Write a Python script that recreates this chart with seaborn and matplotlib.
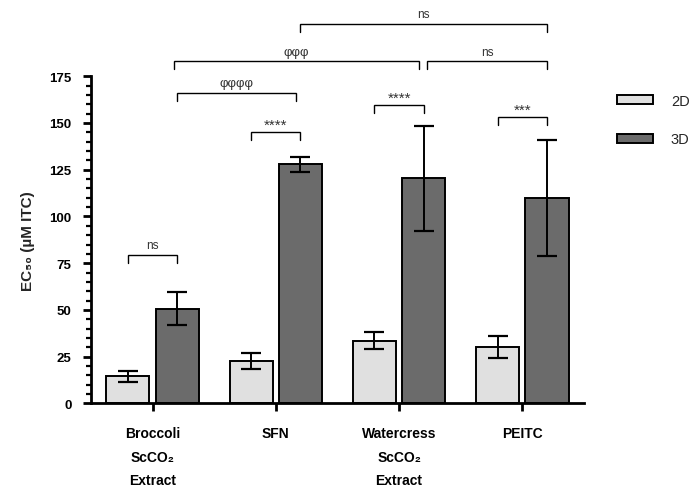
import matplotlib
matplotlib.use("Agg")
import matplotlib.pyplot as plt
import seaborn as sns
import pandas as pd
from matplotlib.ticker import MultipleLocator
from matplotlib.patches import Patch

# ---- data ----
groups = ["Broccoli\nScCO\u2082\nExtract", "SFN", "Watercress\nScCO\u2082\nExtract", "PEITC"]
conditions = ["2D", "3D"]
mean_2d = [14.6, 22.5, 33.5, 30.4]
err_2d = [3.0, 4.2, 4.5, 5.9]
mean_3d = [50.7, 128.0, 120.4, 109.9]
err_3d = [8.7, 4.0, 28.1, 31.1]
yticks = [0, 25, 50, 75, 100, 125, 150, 175]

# significance brackets: (group_a, cond_a, group_b, cond_b, height, label)
brackets = [
    (0, "2D", 0, "3D", 79.6, "ns"),
    (1, "2D", 1, "3D", 145.0, "****"),
    (2, "2D", 2, "3D", 159.5, "****"),
    (3, "2D", 3, "3D", 153.0, "***"),
    (0, "3D", 1, "3D", 166.0, "\u03c6\u03c6\u03c6\u03c6"),
    (0, "3D", 2, "3D", 183.0, "\u03c6\u03c6\u03c6"),
    (2, "3D", 3, "3D", 183.0, "ns"),
    (1, "3D", 3, "3D", 203.0, "ns"),
]

colors = {"2D": "#e0e0e0", "3D": "#6b6b6b"}

df = pd.DataFrame({
    "group": groups * 2,
    "condition": ["2D"] * 4 + ["3D"] * 4,
    "value": mean_2d + mean_3d,
})

sns.set_theme(style="ticks")
plt.rcParams["font.family"] = ["Liberation Sans", "DejaVu Sans"]

fig, ax = plt.subplots(figsize=(6.94, 4.89), dpi=100)
fig.subplots_adjust(left=0.131, right=0.8415, bottom=0.173, top=0.842)

sns.barplot(data=df, x="group", y="value", hue="condition", order=groups,
            hue_order=conditions, palette=colors, gap=0.125, errorbar=None,
            edgecolor="black", linewidth=1.4, ax=ax, legend=False)

# centers of bars from the library's containers
centers = {}
for cond, cont in zip(conditions, ax.containers):
    for gi, bar in enumerate(cont):
        centers[(gi, cond)] = bar.get_x() + bar.get_width() / 2

errs = {"2D": err_2d, "3D": err_3d}
means = {"2D": mean_2d, "3D": mean_3d}
for cond in conditions:
    xs = [centers[(gi, cond)] for gi in range(len(groups))]
    ax.errorbar(xs, means[cond], yerr=errs[cond], fmt="none", ecolor="black",
                elinewidth=1.4, capsize=7.5, capthick=1.6, zorder=5)

# brackets
drop = 4.3
for ga, ca, gb, cb, h, lab in brackets:
    x1 = centers[(ga, ca)]
    x2 = centers[(gb, cb)]
    if ga != gb:
        if lab.startswith("\u03c6\u03c6\u03c6") and len(lab) == 3:
            x1 -= 0.03
            x2 -= 0.035
        elif lab.startswith("\u03c6"):
            x2 -= 0.035
        elif ga == 2:
            x1 += 0.03
    ax.plot([x1, x1, x2, x2], [h - drop, h, h, h - drop], color="black",
            lw=1.0, clip_on=False, solid_joinstyle="miter")
    fs = 11 if "*" in lab else (9.5 if lab.startswith("\u03c6") else 8.5)
    dy = 0.5 if "*" in lab else 2.0
    ax.text((x1 + x2) / 2, h + dy, lab, ha="center", va="bottom",
            fontsize=fs, color="#333333", clip_on=False)

ax.set_xlim(-0.5, 3.5)
ax.set_ylim(0, 175)
ax.set_yticks(yticks)
ax.yaxis.set_minor_locator(MultipleLocator(5))
ax.set_xlabel("")
ax.set_ylabel("EC\u2085\u2080 (\u00b5M ITC)", fontsize=11, fontweight="bold")
ax.yaxis.set_label_coords(-0.114, 0.5)

for s in ["top", "right"]:
    ax.spines[s].set_visible(False)
for s in ["left", "bottom"]:
    ax.spines[s].set_linewidth(2.0)
    ax.spines[s].set_color("black")

ax.tick_params(axis="y", which="major", length=6, width=2.0, labelsize=9.5, pad=8, colors="black")
ax.tick_params(axis="y", which="minor", length=3.5, width=1.6, colors="black")
ax.tick_params(axis="x", which="major", length=6, width=2.0, labelsize=10, pad=10, colors="black")
for lbl in ax.get_yticklabels():
    lbl.set_fontweight("bold")
for lbl in ax.get_xticklabels():
    lbl.set_fontweight("bold")
    lbl.set_linespacing(1.9)

handles = [Patch(facecolor=colors[c], edgecolor="black", linewidth=1.4, label=c) for c in conditions]
leg = ax.legend(handles=handles, loc="upper left", bbox_to_anchor=(1.055, 0.965),
                frameon=False, fontsize=10.5, handlelength=2.5, handleheight=0.6,
                labelspacing=1.7, handletextpad=1.2, borderaxespad=0)

fig.savefig("out.png", dpi=100)
